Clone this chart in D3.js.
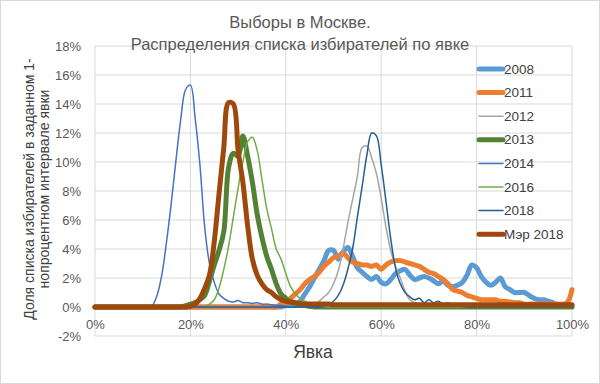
<!DOCTYPE html>
<html><head><meta charset="utf-8">
<script src="https://cdn.jsdelivr.net/npm/d3@7"></script>
<style>body{margin:0;background:#fff}svg{display:block}text{font-family:"Liberation Sans",Arial,sans-serif}</style>
</head><body><svg id="c" width="600" height="384"></svg>
<script>
// Turnout bins, %
const turnout = [0,1,2,3,4,5,6,7,8,9,10,11,12,13,14,15,16,17,18,19,20,21,22,23,24,25,26,27,28,29,30,31,32,33,34,35,36,37,38,39,40,41,42,43,44,45,46,47,48,49,50,51,52,53,54,55,56,57,58,59,60,61,62,63,64,65,66,67,68,69,70,71,72,73,74,75,76,77,78,79,80,81,82,83,84,85,86,87,88,89,90,91,92,93,94,95,96,97,98,99,100];
const seriesNames = ["2008","2011","2012","2013","2014","2016","2018","Мэр 2018"];
const s2008 = [0,0,0,0,0,0,0,0,0,0, 0,0,0,0,0,0,0,0,0,0, 0,0,0,0,0,0,0,0,0,0, 0,0,0,0,0,0,0,0,0,0,
  0.1,0.15,0.2,0.4,0.9,1.4,2.0,2.6,3.2,3.9, 3.9,3.3,3.8,4.1,3.5,2.7,2.4,2.1,1.9,2.1, 1.7,1.6,1.9,2.3,2.5,2.6,2.2,1.9,2.0,2.1,
  2.0,1.8,1.6,1.8,1.5,1.4,1.5,1.7,2.2,2.9, 2.7,2.1,1.7,1.5,1.7,2.0,1.4,1.2,1.0,1.0, 1.0,0.8,0.6,0.5,0.5,0.4,0.3,0.1,0.05,0.05, 0.1];
const s2011 = [0,0,0,0,0,0,0,0,0,0, 0,0,0,0,0,0,0,0,0,0, 0,0,0,0,0,0,0,0,0,0, 0,0,0,0,0,0,0,0,0,0.2,
  0.3,0.6,0.9,1.2,1.6,1.9,2.1,2.4,2.8,3.1, 3.4,3.5,3.7,3.4,3.1,3.0,2.9,2.9,2.8,2.9, 2.6,2.9,3.1,3.2,3.2,3.1,3.0,2.9,2.8,2.6,
  2.4,2.3,2.1,1.9,1.6,1.2,1.1,1.0,0.8,0.7, 0.6,0.5,0.5,0.5,0.5,0.4,0.4,0.35,0.3,0.3, 0.2,0.2,0.2,0.2,0.2,0.2,0.2,0.2,0.2,0.3, 1.2];
const s2012 = [0,0,0,0,0,0,0,0,0,0, 0,0,0,0,0,0,0,0,0,0, 0,0,0,0,0,0,0,0,0,0, 0,0,0,0,0,0,0,0,0,0, 0,0,0,0,0,
  0.1,0.2,0.4,0.7,1.0, 1.6,2.5,4.0,5.8,7.4,9.0,11.0,11.1,10.3,9.2, 7.5,5.5,3.9,2.8,2.0,1.1,0.5,0.3,0.2,0.1, 0.05,
  0,0,0,0,0,0,0,0,0,0, 0,0,0,0,0,0,0,0,0,0, 0,0,0,0,0,0,0,0,0,0];
const s2013 = [0,0,0,0,0,0,0,0,0,0, 0,0,0,0,0,0,0,0,0,
  0.1, 0.2,0.3,0.5,0.8,1.8,2.9,3.9,5.2,9.6,10.6, 10.4,11.8,10.4,8.6,6.4,4.8,3.5,2.6,1.6,0.9, 0.6,0.35,0.25,0.15,0.1,0.05,
  0,0,0,0, 0,0,0,0,0,0,0,0,0,0, 0,0,0,0,0,0,0,0,0,0, 0,0,0,0,0,0,0,0,0,0, 0,0,0,0,0,0,0,0,0,0, 0,0,0,0,0,0,0,0,0,0, 0];
const s2014 = [0,0,0,0,0,0,0,0,0,0, 0,0,
  0.1,0.8,2.2,4.5,7.2,10.2,13.0,15.0, 15.3,13.0,9.8,5.5,3.0,1.7,0.9,0.6,0.4,0.35, 0.45,0.3,0.3,0.25,0.3,0.2,0.2,0.15,0.1,0.1, 0.05,
  0,0,0,0,0,0,0,0,0, 0,0,0,0,0,0,0,0,0,0, 0,0,0,0,0,0,0,0,0,0, 0,0,0,0,0,0,0,0,0,0, 0,0,0,0,0,0,0,0,0,0, 0,0,0,0,0,0,0,0,0,0, 0];
const s2016 = [0,0,0,0,0,0,0,0,0,0, 0,0,0,0,0,0,0,0,0,0, 0,0,0,0,
  0.2,0.5,1.3,2.6,4.2,6.2, 8.2,10.0,11.4,11.7,10.8,8.8,6.8,5.4,4.0,3.3, 2.3,1.4,0.9,0.6,0.4,0.3,0.2,0.1,0.05,
  0, 0,0,0,0,0,0,0,0,0,0, 0,0,0,0,0,0,0,0,0,0, 0,0,0,0,0,0,0,0,0,0, 0,0,0,0,0,0,0,0,0,0, 0,0,0,0,0,0,0,0,0,0, 0];
const s2018 = [0,0,0,0,0,0,0,0,0,0, 0,0,0,0,0,0,0,0,0,0, 0,0,0,0,0,0,0,0,0,0, 0,0,0,0,0,0,0,0,0,0, 0,0,0,0,0,0,0,0,
  0.1,0.2, 0.4,0.8,1.5,2.6,4.0,6.2,8.3,10.5,12.0,11.8, 9.8,7.3,4.7,2.7,1.6,1.0,0.7,0.5,0.6,0.3, 0.5,0.3,0.4,0.2,0.3,0.1,0.2,0.05,
  0,0, 0,0,0,0,0,0,0,0,0,0, 0,0,0,0,0,0,0,0,0,0, 0];
const sMayor2018 = [0,0,0,0,0,0,0,0,0,0, 0,0,0,0,0,0,0,0,0,0,
  0.05,0.2,0.6,1.3,2.2,4.5,7.8,11.0,14.1,14.0, 10.8,8.6,5.6,3.3,2.2,1.6,1.2,1.0,0.7,0.5, 0.4,0.35,0.3,0.25,0.2,0.2,0.2,0.2,0.2,0.2,
  0.15,0.15,0.15,0.15,0.15,0.15,0.15,0.15,0.15,0.15, 0.15,0.15,0.15,0.15,0.15,0.15,0.15,0.15,0.15,0.15, 0.15,0.15,0.15,0.15,0.15,0.15,0.15,0.15,0.15,0.15,
  0.15,0.15,0.15,0.15,0.15,0.15,0.15,0.15,0.15,0.15, 0.15,0.15,0.15,0.15,0.15,0.15,0.15,0.15,0.15,0.15, 0.15];
const yTicks = [-2,0,2,4,6,8,10,12,14,16,18];
const xTicks = [0,20,40,60,80,100];
const titleLines = ["Выборы в Москве.","Распределения списка избирателей по явке"];
const yTitleLines = ["Доля списка избирателей в заданном 1-","нопроцентном интервале явки"];
const xTitle = "Явка";

const seriesValues = [s2008,s2011,s2012,s2013,s2014,s2016,s2018,sMayor2018];
const colors = ["#5B9BD5","#ED7D31","#A5A5A5","#548235","#4472C4","#70AD47","#255E91","#9E480E"];
const widths = [5,5,1.5,5,1.5,1.5,1.5,5];

const svg = d3.select("#c");
svg.append("rect").attr("x",0.5).attr("y",0.5).attr("width",599).attr("height",383)
  .attr("fill","#fff").attr("stroke","#D9D9D9");

const x = d3.scaleLinear().domain([0,100]).range([95,572]);
const y = d3.scaleLinear().domain([-2,18]).range([336,46]);

// gridlines
svg.append("g").selectAll("line").data(yTicks).join("line")
  .attr("x1",x(0)).attr("x2",x(100)).attr("y1",d=>y(d)).attr("y2",d=>y(d))
  .attr("stroke","#D9D9D9").attr("stroke-width",1);
svg.append("g").selectAll("line").data(xTicks).join("line")
  .attr("x1",d=>x(d)).attr("x2",d=>x(d)).attr("y1",y(-2)).attr("y2",y(18))
  .attr("stroke","#D9D9D9").attr("stroke-width",1);

// axes labels
const yAxis = svg.append("g").attr("transform",`translate(${x(0)},0)`)
  .call(d3.axisLeft(y).tickValues(yTicks).tickFormat(d=>d+"%").tickSize(0).tickPadding(14));
yAxis.select(".domain").remove();
yAxis.selectAll("text").attr("font-size",13).attr("fill","#595959").style("font-family","Liberation Sans, Arial, sans-serif");

const xAxis = svg.append("g").attr("transform",`translate(0,${y(0)})`)
  .call(d3.axisBottom(x).tickValues(xTicks).tickFormat(d=>d+"%").tickSize(0).tickPadding(13));
xAxis.select(".domain").remove();
xAxis.selectAll("text").attr("font-size",13).attr("fill","#595959").style("font-family","Liberation Sans, Arial, sans-serif");

// lines
const line = d3.line().curve(d3.curveCatmullRom.alpha(0.5));
seriesValues.forEach((vals,i)=>{
  svg.append("path")
    .attr("d", line(turnout.map((t,j)=>[x(t), y(vals[j])])))
    .attr("fill","none").attr("stroke",colors[i]).attr("stroke-width",widths[i])
    .attr("stroke-linejoin","round").attr("stroke-linecap","round");
});

// title
svg.append("g").selectAll("text").data(titleLines).join("text")
  .attr("x",300).attr("y",(d,i)=>28+i*22).attr("text-anchor","middle")
  .attr("font-size",16.5).attr("fill","#595959").text(d=>d);

// y title
svg.append("g").attr("transform","translate(0,189) rotate(-90)")
  .selectAll("text").data(yTitleLines).join("text")
  .attr("x",0).attr("y",(d,i)=>34+i*14.5).attr("text-anchor","middle")
  .attr("font-size",14).attr("fill","#404040").text(d=>d);

// x title
svg.append("text").attr("x",313).attr("y",358).attr("text-anchor","middle")
  .attr("font-size",17.5).attr("fill","#404040").text(xTitle);

// legend
const lg = svg.append("g");
seriesNames.forEach((n,i)=>{
  const yy = 69 + i*23.6;
  lg.append("line").attr("x1",479).attr("x2",503).attr("y1",yy).attr("y2",yy)
    .attr("stroke",colors[i]).attr("stroke-width",widths[i]).attr("stroke-linecap","round");
  lg.append("text").attr("x",504).attr("y",yy+4.5).attr("font-size",13.5).attr("fill","#404040").text(n);
});
</script></body></html>
